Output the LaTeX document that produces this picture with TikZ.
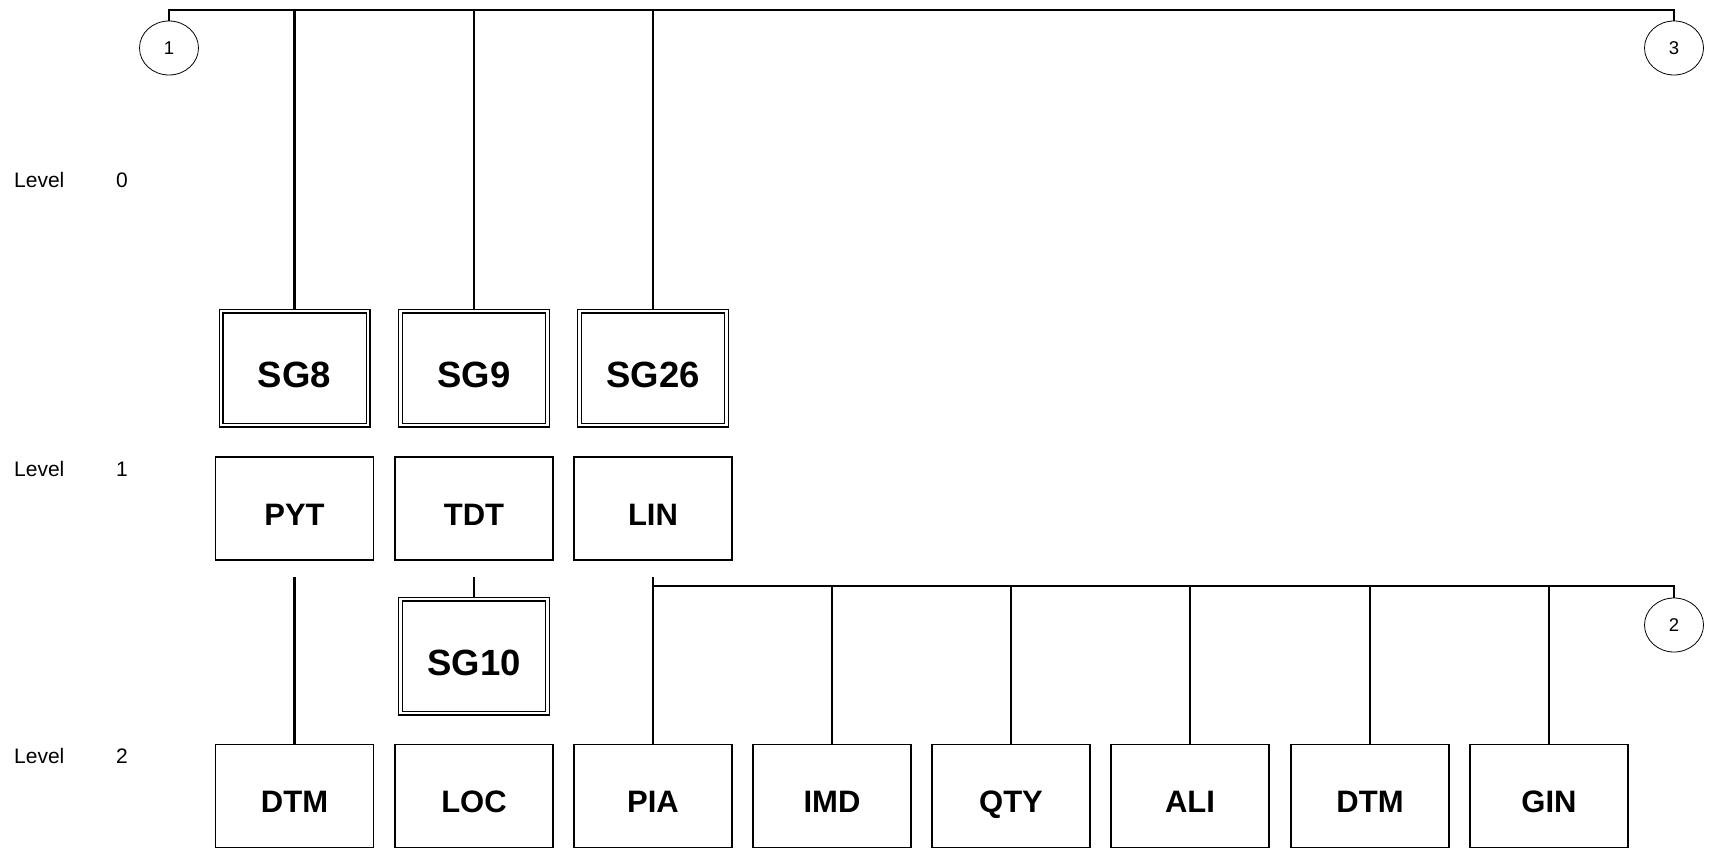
\documentclass[tikz,border=0pt]{standalone}
\usepackage{fontspec}
\setmainfont{Liberation Sans}
\usetikzlibrary{shapes.geometric}
\begin{document}
\begin{tikzpicture}[x=1pt,y=-1pt,
  box/.style={draw, line width=1.4pt, minimum width=158pt, minimum height=103pt, inner sep=0pt, text height=33.5pt, text depth=0pt, font=\fontsize{31}{31}\selectfont\bfseries},
  sgbox/.style={draw, double, double distance=2.6pt, line width=1.2pt, minimum width=147pt, minimum height=114pt, inner sep=0pt, text height=38pt, text depth=0pt, font=\fontsize{36.5}{36.5}\selectfont\bfseries},
  circ/.style={draw, ellipse, line width=0.8pt, minimum width=59pt, minimum height=54pt, inner sep=0pt, font=\fontsize{18.5}{18.5}\selectfont},
  conn/.style={line width=2.4pt},
  lvl/.style={anchor=west, inner sep=0pt, font=\fontsize{21}{21}\selectfont}]
\useasboundingbox (0,0) rectangle (1710,850);

% level labels
\node[lvl] (l0) at (14,180) {Level};
\node[lvl] (n0) at (116,180) {0};
\node[lvl] (l1) at (14,469) {Level};
\node[lvl] (n1) at (116,469) {1};
\node[lvl] (l2) at (14,756) {Level};
\node[lvl] (n2) at (116,756) {2};

% circles
\node[circ] (c1) at (169,48) {1};
\node[circ] (c3) at (1674,48) {3};
\node[circ] (c2) at (1674,625) {2};

% SG boxes
\node[sgbox] (sg8) at (294.5,368) {SG8};
\node[sgbox] (sg9) at (474,368) {SG9};
\node[sgbox] (sg26) at (653,368) {SG26};
\node[sgbox] (sg10) at (474,656) {SG10};

% level 1
\node[box] (pyt) at (294.5,508.5) {PYT};
\node[box] (tdt) at (474,508.5) {TDT};
\node[box] (lin) at (653,508.5) {LIN};

% level 2
\node[box] (dtm1) at (294.5,796) {DTM};
\node[box] (loc) at (474,796) {LOC};
\node[box] (pia) at (653,796) {PIA};
\node[box] (imd) at (832,796) {IMD};
\node[box] (qty) at (1011,796) {QTY};
\node[box] (ali) at (1190,796) {ALI};
\node[box] (dtm2) at (1370,796) {DTM};
\node[box] (gin) at (1549,796) {GIN};

% top bus
\coordinate (busy) at (0,10);
\draw[conn] (c1.north) -- (c1.north |- busy) -- (c3.north |- busy) -- (c3.north);
\draw[conn] (sg8.north) -- (sg8.north |- busy);
\draw[conn] (sg9.north) -- (sg9.north |- busy);
\draw[conn] (sg26.north) -- (sg26.north |- busy);

% level 1 to level 2
\coordinate (gapy) at (0,577);
\coordinate (bus2y) at (0,586);
\draw[conn] (pyt.south |- gapy) -- (dtm1.north);
\draw[conn] (tdt.south |- gapy) -- (sg10.north);
\draw[conn] (lin.south |- gapy) -- (pia.north);
\draw[conn] (pia.north |- bus2y) -- (c2.north |- bus2y) -- (c2.north);
\draw[conn] (imd.north) -- (imd.north |- bus2y);
\draw[conn] (qty.north) -- (qty.north |- bus2y);
\draw[conn] (ali.north) -- (ali.north |- bus2y);
\draw[conn] (dtm2.north) -- (dtm2.north |- bus2y);
\draw[conn] (gin.north) -- (gin.north |- bus2y);
\end{tikzpicture}
\end{document}
